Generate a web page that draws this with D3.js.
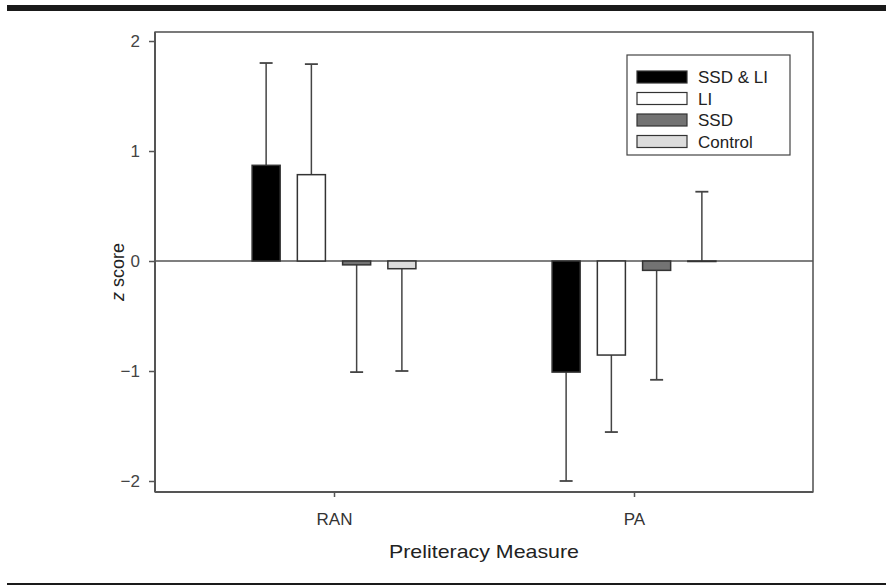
<!DOCTYPE html>
<html>
<head>
<meta charset="utf-8">
<script src="https://cdn.jsdelivr.net/npm/d3@7"></script>
<style>
  html, body { margin: 0; padding: 0; background: #fff; }
  svg { display: block; font-family: "Liberation Sans", Arial, sans-serif; }
</style>
</head>
<body>
<svg id="chart" width="886" height="586"></svg>
<script>
// ---- Data ----
const categories = ["RAN", "PA"];
const seriesNames = ["SSD & LI", "LI", "SSD", "Control"];
const seriesColors = ["#000000", "#ffffff", "#737373", "#dcdcdc"];
// mean z scores per series, in category order [RAN, PA]
const ssdLiValues   = [0.87, -1.01];
const liValues      = [0.785, -0.855];
const ssdValues     = [-0.035, -0.085];
const controlValues = [-0.07, 0.0];
// standard deviations (error bars extend away from zero)
const ssdLiErrors   = [0.93, 0.99];
const liErrors      = [1.005, 0.70];
const ssdErrors     = [0.975, 0.995];
const controlErrors = [0.93, 0.63];
const yTicks = [-2, -1, 0, 1, 2];

const allValues = [ssdLiValues, liValues, ssdValues, controlValues];
const allErrors = [ssdLiErrors, liErrors, ssdErrors, controlErrors];

// ---- Layout ----
const svg = d3.select("#chart");
const plot = { left: 155, right: 813, top: 32, bottom: 492 };

const y = d3.scaleLinear().domain([-2.1, 2.082]).range([plot.bottom, plot.top]);
const x = d3.scalePoint().domain(categories).range([plot.left, plot.right]).padding(0.5967);
const xs = d3.scaleBand().domain(seriesNames).range([-90.5, 90.5]).paddingInner(0.38).paddingOuter(0.19);

// page rules
svg.append("rect").attr("x", 7).attr("y", 5).attr("width", 879).attr("height", 6).attr("fill", "#1a1a1a");
svg.append("rect").attr("x", 7).attr("y", 583).attr("width", 879).attr("height", 2).attr("fill", "#1a1a1a");

// frame (top and right)
svg.append("rect")
  .attr("x", plot.left).attr("y", plot.top)
  .attr("width", plot.right - plot.left).attr("height", plot.bottom - plot.top)
  .attr("fill", "none").attr("stroke", "#222").attr("stroke-width", 1.2);

// zero line
svg.append("line")
  .attr("x1", plot.left).attr("x2", plot.right)
  .attr("y1", y(0)).attr("y2", y(0))
  .attr("stroke", "#555").attr("stroke-width", 1.5);

// bars + error bars
const rows = [];
seriesNames.forEach((s, si) => {
  categories.forEach((c, ci) => {
    rows.push({ s, si, c, v: allValues[si][ci], e: allErrors[si][ci] });
  });
});

const g = svg.append("g");
rows.forEach(d => {
  const cx = x(d.c) + xs(d.s);
  const bw = xs.bandwidth();
  const mid = cx + bw / 2;
  const tip = d.v >= 0 ? d.v + d.e : d.v - d.e;
  g.append("line")
    .attr("x1", mid).attr("x2", mid)
    .attr("y1", y(d.v)).attr("y2", y(tip))
    .attr("stroke", "#444").attr("stroke-width", 1.5);
  g.append("line")
    .attr("x1", mid - 6.5).attr("x2", mid + 6.5)
    .attr("y1", y(tip)).attr("y2", y(tip))
    .attr("stroke", "#444").attr("stroke-width", 1.8);
  g.append("rect")
    .attr("x", cx).attr("width", bw)
    .attr("y", y(Math.max(0, d.v)))
    .attr("height", Math.max(Math.abs(y(d.v) - y(0)), 0.5))
    .attr("fill", seriesColors[d.si])
    .attr("stroke", "#333").attr("stroke-width", 1.5);
});

// axes
const fmt = v => (v < 0 ? "\u2212" + Math.abs(v) : String(v));
const yAxis = svg.append("g")
  .attr("transform", `translate(${plot.left},0)`)
  .call(d3.axisLeft(y).tickValues(yTicks).tickFormat(fmt).tickSize(6).tickPadding(9));
yAxis.select(".domain").attr("stroke", "#555").attr("stroke-width", 2)
  .attr("d", `M0,${plot.top}V${plot.bottom}`);
yAxis.selectAll(".tick line").attr("stroke", "#555").attr("stroke-width", 1.5);
yAxis.selectAll(".tick text").attr("font-size", 17).attr("fill", "#444")
  .attr("font-family", "Liberation Sans, Arial, sans-serif");

const xAxis = svg.append("g")
  .attr("transform", `translate(0,${plot.bottom})`)
  .call(d3.axisBottom(x).tickSize(5).tickPadding(16));
xAxis.select(".domain").attr("stroke", "#555").attr("stroke-width", 2)
  .attr("d", `M${plot.left},0H${plot.right}`);
xAxis.selectAll(".tick line").attr("stroke", "#555").attr("stroke-width", 1.5);
xAxis.selectAll(".tick text").attr("font-size", 17).attr("fill", "#333")
  .attr("font-family", "Liberation Sans, Arial, sans-serif");

// axis titles
svg.append("text")
  .attr("x", (plot.left + plot.right) / 2).attr("y", 558)
  .attr("text-anchor", "middle").attr("font-size", 19).attr("fill", "#222")
  .attr("textLength", 190).attr("lengthAdjust", "spacingAndGlyphs")
  .text("Preliteracy Measure");

const yl = svg.append("text")
  .attr("transform", `translate(124,${(plot.top + plot.bottom) / 2 + 10}) rotate(-90)`)
  .attr("text-anchor", "middle").attr("font-size", 18).attr("fill", "#222");
yl.append("tspan").attr("font-style", "italic").text("z");
yl.append("tspan").text(" score");

// legend
const lg = svg.append("g");
lg.append("rect").attr("x", 627).attr("y", 55).attr("width", 163).attr("height", 100)
  .attr("fill", "#fff").attr("stroke", "#444").attr("stroke-width", 1.2);
seriesNames.forEach((s, i) => {
  const cy = 77 + i * 21.5;
  lg.append("rect").attr("x", 637).attr("y", cy - 6).attr("width", 50).attr("height", 12)
    .attr("fill", seriesColors[i]).attr("stroke", "#333").attr("stroke-width", 1.2);
  lg.append("text").attr("x", 698).attr("y", cy + 6)
    .attr("font-size", 17).attr("fill", "#222").text(s);
});
</script>
</body>
</html>
